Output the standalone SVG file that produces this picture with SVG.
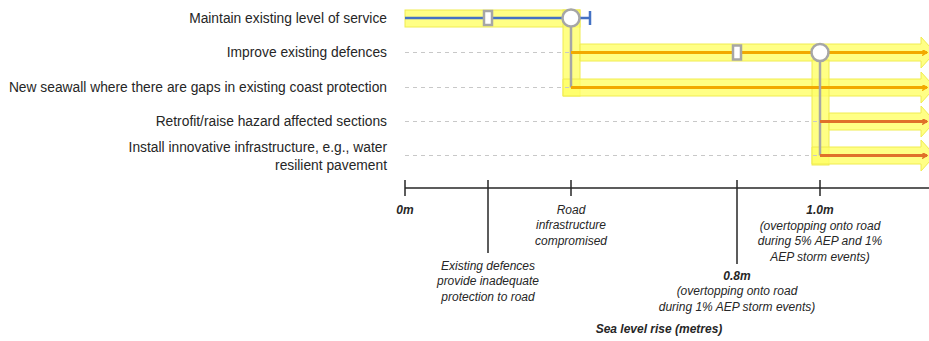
<svg xmlns="http://www.w3.org/2000/svg" width="929" height="341" viewBox="0 0 929 341">
<style>
.lbl{font-family:"Liberation Sans",Arial,sans-serif;font-size:13.8px;fill:#262626;text-anchor:end}
.ax{font-family:"Liberation Sans",Arial,sans-serif;font-size:12px;font-style:italic;fill:#262626;text-anchor:middle}
.axb{font-family:"Liberation Sans",Arial,sans-serif;font-size:12px;font-style:italic;font-weight:bold;fill:#262626;text-anchor:middle}
.band{fill:#FFFF66;fill-opacity:0.8;stroke:#F0EC50;stroke-width:1}
.dash{stroke:#C8C8C8;stroke-width:1;stroke-dasharray:4 4;fill:none}
.gray{stroke:#A6A6A6;stroke-width:2.5;fill:none}
.amber{stroke:#F2A900;stroke-width:3;fill:none}
.red{stroke:#E0702A;stroke-width:3;fill:none}
.blue{stroke:#4472C4;stroke-width:2.5;fill:none}
.mk{fill:#fff;stroke:#A6A6A6;stroke-width:2.5}
.axis{stroke:#262626;stroke-width:1.5;fill:none}
</style>
<defs>
<marker id="ah" markerWidth="6" markerHeight="6" refX="5" refY="3" orient="auto" markerUnits="userSpaceOnUse">
<path d="M0,0 L5,3 L0,6" fill="none" stroke="#F2A900" stroke-width="1.5"/>
</marker>
<marker id="ahr" markerWidth="6" markerHeight="6" refX="5" refY="3" orient="auto" markerUnits="userSpaceOnUse">
<path d="M0,0 L5,3 L0,6" fill="none" stroke="#E0702A" stroke-width="1.5"/>
</marker>
</defs>

<g id="labels">
<text class="lbl" x="387" y="23">Maintain existing level of service</text>
<text class="lbl" x="387" y="57">Improve existing defences</text>
<text class="lbl" x="387" y="92">New seawall where there are gaps in existing coast protection</text>
<text class="lbl" x="387" y="126">Retrofit/raise hazard affected sections</text>
<text class="lbl" x="387" y="152">Install innovative infrastructure, e.g., water</text>
<text class="lbl" x="387" y="170">resilient pavement</text>
</g>

<g id="highlights">
<rect class="band" x="405" y="10" width="175" height="17"/>
<rect class="band" x="563" y="10" width="17" height="86"/>
<path class="band" d="M580,44 H921 V37 L935,52.5 L921,68 V61 H580 Z"/>
<path class="band" d="M563,79 H921 V72 L935,87.5 L921,103 V96 H563 Z"/>
<rect class="band" x="812" y="60" width="17" height="105"/>
<path class="band" d="M829,113 H921 V106 L935,121.5 L921,137 V130 H829 Z"/>
<path class="band" d="M812,147 H921 V140 L935,155.5 L921,171 V164 H812 Z"/>
</g>

<g id="connectors">
<line class="dash" x1="405" y1="52.5" x2="571" y2="52.5"/>
<line class="dash" x1="405" y1="87.5" x2="571" y2="87.5"/>
<line class="dash" x1="405" y1="121.5" x2="820" y2="121.5"/>
<line class="dash" x1="405" y1="155.5" x2="820" y2="155.5"/>
<line class="blue" x1="405" y1="18" x2="590" y2="18"/>
<line class="blue" x1="590" y1="11" x2="590" y2="25"/>
<path class="gray" d="M571,18 V87.5"/>
<path class="amber" d="M571,52.5 H927" marker-end="url(#ah)"/>
<path class="amber" d="M571,87.5 H927" marker-end="url(#ah)"/>
<path class="gray" d="M820,52.5 V155.5"/>
<path class="red" d="M820,121.5 H927" marker-end="url(#ahr)"/>
<path class="red" d="M820,155.5 H927" marker-end="url(#ahr)"/>
</g>

<g id="node-maintain-decision">
<rect class="mk" x="484" y="11" width="8" height="14"/>
<circle class="mk" cx="571" cy="18" r="8.5"/>
</g>
<g id="node-improve-decision">
<rect class="mk" x="733" y="45.5" width="8" height="14"/>
<circle class="mk" cx="820" cy="52.5" r="8.5"/>
</g>

<g id="axis">
<line class="axis" x1="405" y1="188" x2="929" y2="188"/>
<line class="axis" x1="405" y1="180" x2="405" y2="196"/>
<line class="axis" x1="488" y1="180" x2="488" y2="253"/>
<line class="axis" x1="571" y1="180" x2="571" y2="196"/>
<line class="axis" x1="737" y1="180" x2="737" y2="264"/>
<line class="axis" x1="820" y1="180" x2="820" y2="196"/>
</g>

<g id="axis-labels">
<text class="axb" x="405" y="214">0m</text>
<text class="ax" x="571" y="214">Road</text>
<text class="ax" x="571" y="229">infrastructure</text>
<text class="ax" x="571" y="245">compromised</text>
<text class="ax" x="488" y="270">Existing defences</text>
<text class="ax" x="488" y="285">provide inadequate</text>
<text class="ax" x="488" y="301">protection to road</text>
<text class="axb" x="820" y="214">1.0m</text>
<text class="ax" x="820" y="230">(overtopping onto road</text>
<text class="ax" x="820" y="245">during 5% AEP and 1%</text>
<text class="ax" x="820" y="261">AEP storm events)</text>
<text class="axb" x="737" y="280">0.8m</text>
<text class="ax" x="737" y="295">(overtopping onto road</text>
<text class="ax" x="737" y="311">during 1% AEP storm events)</text>
<text class="axb" x="659" y="333">Sea level rise (metres)</text>
</g>
</svg>
